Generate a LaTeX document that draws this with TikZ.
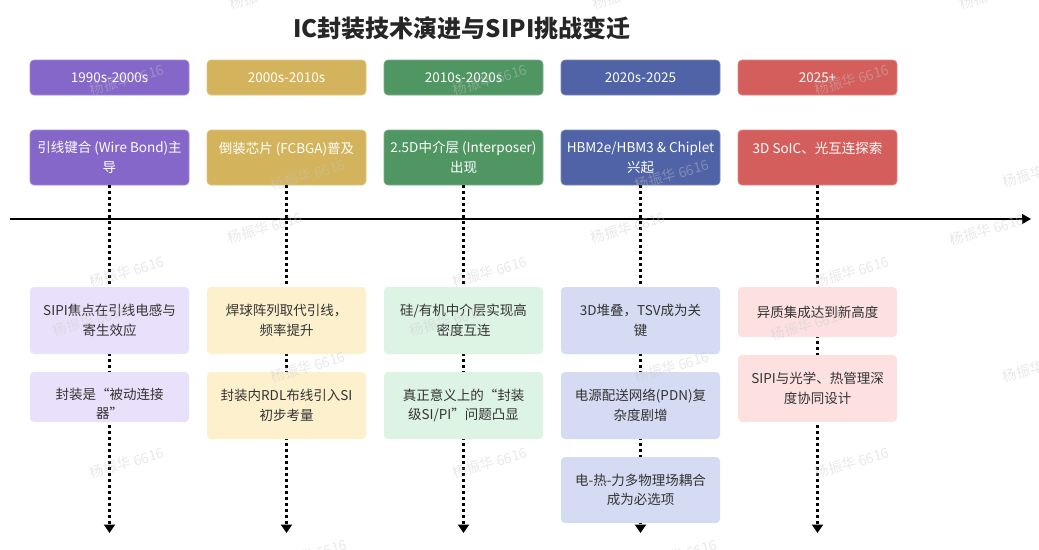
\documentclass[tikz,border=0pt]{standalone}
\usepackage{fontspec}
\setmainfont{Noto Sans CJK SC}
\usetikzlibrary{arrows.meta,backgrounds}
\definecolor{hpurple}{HTML}{8467C9}
\definecolor{hgold}{HTML}{D3B35B}
\definecolor{hgreen}{HTML}{509663}
\definecolor{hblue}{HTML}{5063A6}
\definecolor{hred}{HTML}{D45E5C}
\definecolor{lpurple}{HTML}{E9E1FB}
\definecolor{lgold}{HTML}{FDF0CD}
\definecolor{lgreen}{HTML}{DDF3E3}
\definecolor{lblue}{HTML}{D5DBF3}
\definecolor{lred}{HTML}{FDE1E1}
\definecolor{tdark}{HTML}{333333}
\definecolor{ttitle}{HTML}{262626}
\definecolor{wmark}{HTML}{C8C8C8}
\tikzset{
  bodyfont/.style={font=\fontsize{13.5}{19.5}\selectfont},
  period/.style={rounded corners=4pt, minimum width=159pt, minimum height=35pt,
    inner sep=0pt, text=white, bodyfont, align=center, draw=#1!75!white, fill=#1, line width=0.6pt},
  event/.style={rounded corners=4pt, minimum width=159pt, minimum height=55pt,
    inner sep=0pt, text=white, bodyfont, align=center, draw=#1!75!white, fill=#1, line width=0.6pt},
  detail/.style={rounded corners=4pt, minimum width=159pt, minimum height=67pt,
    inner sep=0pt, text=tdark, bodyfont, align=center, fill=#1},
  detailshort/.style={detail=#1, minimum height=50pt},
  dotline/.style={draw=black, line width=2.2pt, dash pattern=on 3pt off 3pt,
    -{Triangle[width=11pt,length=8.5pt]}},
  axisline/.style={draw=black, line width=1.4pt, -{Triangle[width=10pt,length=9pt]}},
  wm/.style={text=wmark, opacity=0.4, rotate=16, font=\fontsize{14}{16}\selectfont},
}
\begin{document}
\begin{tikzpicture}[x=1pt,y=-1pt]
\useasboundingbox (0,0) rectangle (1039,549);
\fill[white] (0,0) rectangle (1039,549);

\node[font=\fontsize{24}{28}\selectfont\bfseries, text=ttitle] (title) at (462,28) {IC封装技术演进与SIPI挑战变迁};

% period headers
\node[period=hpurple] (p1) at (109.5,77.5) {1990s-2000s};
\node[period=hgold]   (p2) at (286.5,77.5) {2000s-2010s};
\node[period=hgreen]  (p3) at (463.5,77.5) {2010s-2020s};
\node[period=hblue]   (p4) at (640.5,77.5) {2020s-2025};
\node[period=hred]    (p5) at (817.5,77.5) {2025+};

% key events
\node[event=hpurple] (e1) at (109.5,157.5) {引线键合 (Wire Bond)主\\导};
\node[event=hgold]   (e2) at (286.5,157.5) {倒装芯片 (FCBGA)普及\\\mbox{}};
\node[event=hgreen]  (e3) at (463.5,157.5) {2.5D中介层 (Interposer)\\出现};
\node[event=hblue]   (e4) at (640.5,157.5) {HBM2e/HBM3 \& Chiplet\\兴起};
\node[event=hred]    (e5) at (817.5,157.5) {3D SoIC、光互连探索\\\mbox{}};

% timeline axis
\coordinate (ax0) at (10,219);
\coordinate (ax1) at (1031,219);
\draw[axisline] (ax0) -- (ax1);

% dotted arrows
\coordinate (f1) at (109.5,533);
\coordinate (f2) at (286.5,533);
\coordinate (f3) at (463.5,533);
\coordinate (f4) at (640.5,533);
\coordinate (f5) at (817.5,533);
\draw[dotline] (e1.south) -- (f1);
\draw[dotline] (e2.south) -- (f2);
\draw[dotline] (e3.south) -- (f3);
\draw[dotline] (e4.south) -- (f4);
\draw[dotline] (e5.south) -- (f5);

% details
\node[detail=lpurple] (d11) at (109.5,320.5) {SIPI焦点在引线电感与\\寄生效应};
\node[detailshort=lpurple, label={[name=d12t, text=tdark, bodyfont, align=center, yshift=-7pt]center:{封装是“被动连接\\器”}}] (d12) at (109.5,397) {};

\node[detail=lgold] (d21) at (286.5,320.5) {焊球阵列取代引线，\\频率提升};
\node[detail=lgold] (d22) at (286.5,405.5) {封装内RDL布线引入SI\\初步考量};

\node[detail=lgreen] (d31) at (463.5,320.5) {硅/有机中介层实现高\\密度互连};
\node[detail=lgreen] (d32) at (463.5,405.5) {真正意义上的“封装\\级SI/PI”问题凸显};

\node[detail=lblue] (d41) at (640.5,320.5) {3D堆叠，TSV成为关\\键};
\node[detail=lblue] (d42) at (640.5,405.5) {电源配送网络(PDN)复\\杂度剧增};
\node[detail=lblue, minimum height=66pt] (d43) at (640.5,490) {电-热-力多物理场耦合\\成为必选项};

\node[detailshort=lred] (d51) at (817.5,312) {异质集成达到新高度};
\node[detail=lred] (d52) at (817.5,388.5) {SIPI与光学、热管理深\\度协同设计};

% watermark
\begin{scope}
\clip (0,0) rectangle (1039,549);
\foreach \wx/\wy [count=\i] in {127/80,490/80,852/80,127/272,490/272,852/272,127/463,490/463,852/463,
  308/175,672/175,1040/172,308/367,672/367,1040/367,310/555,680/555,
  265/228,628/228,987/230,90/321,447/321,808/325,267/-6,630/-6,997/-6}
  \node[wm] (wm\i) at (\wx,\wy) {杨振华 6616};
\end{scope}
\end{tikzpicture}
\end{document}
